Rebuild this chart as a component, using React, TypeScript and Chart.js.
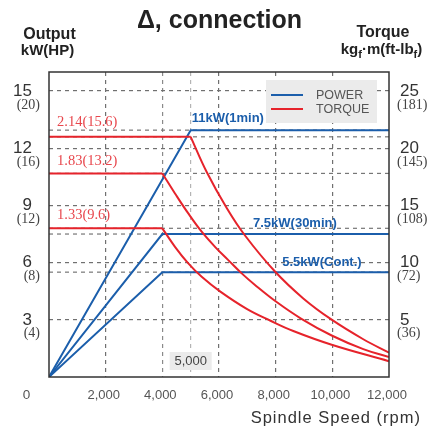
import React, { useEffect, useRef } from "react";
import { Chart, registerables } from "chart.js";

Chart.register(...registerables);

// ---------- data ----------
const rpmGrid = [2000, 4000, 5000, 6000, 8000, 10000];
const rpmTickLabels = [2000, 4000, 6000, 8000, 10000, 12000];
const outputTicks = [3, 6, 9, 12, 15];
const outputHpLabels = ["(4)", "(8)", "(12)", "(16)", "(20)"];
const torqueTicks = [5, 10, 15, 20, 25];
const torqueFtLbLabels = ["(36)", "(72)", "(108)", "(145)", "(181)"];

// Power curves (kW, left axis as drawn)
const power1minRpm = [0, 5000, 12000];
const power1minKw = [0, 12.95, 12.95];
const power30minRpm = [0, 4000, 12000];
const power30minKw = [0, 7.5, 7.5];
const powerContRpm = [0, 4000, 12000];
const powerContKw = [0, 5.5, 5.5];

// Torque curves (right axis units as drawn)
const torque1FlatRpm = [0, 5000];
const torque1FlatVal = [21.0, 21.0];
const torque1CurveRpm = [5000, 5566, 6272, 6918, 7976, 8975, 9977, 11093, 12000];
const torque1CurveVal = [21.0, 17.93, 14.78, 12.37, 9.22, 6.87, 5.01, 3.3, 2.13];

const torque2FlatRpm = [0, 4000];
const torque2FlatVal = [17.8, 17.8];
const torque2CurveRpm = [4000, 4447, 4916, 5389, 5859, 6328, 6801, 7270, 8047, 8894, 9977, 11093, 12000];
const torque2CurveVal = [17.8, 16.05, 14.3, 12.7, 11.38, 10.22, 9.06, 8.05, 6.53, 5.11, 3.63, 2.44, 1.74];

const torque3FlatRpm = [0, 4000];
const torque3FlatVal = [13.0, 13.0];
const torque3CurveRpm = [4000, 4447, 4916, 5389, 6035, 6978, 7800, 8622, 9977, 12000];
const torque3CurveVal = [13.0, 11.38, 9.93, 8.76, 7.49, 5.96, 4.94, 4.02, 2.82, 1.38];

const powerLabels = ["11kW(1min)", "7.5kW(30min)", "5.5kW(Cont.)"];
const torqueLabels = ["2.14(15.6)", "1.83(13.2)", "1.33(9.6)"];

// ---------- styles ----------
const BLUE = "#1b5eab";
const RED = "#e6232b";
const SANS = "'Liberation Sans', Arial, sans-serif";
const SERIF = "'Liberation Serif', 'Times New Roman', serif";

const zip = (xs: number[], ys: number[]) => xs.map((x, i) => ({ x, y: ys[i] }));

function text(
  ctx: CanvasRenderingContext2D,
  s: string,
  x: number,
  y: number,
  font: string,
  color: string,
  align: CanvasTextAlign = "left",
  spacing = "0px"
) {
  ctx.save();
  ctx.font = font;
  ctx.fillStyle = color;
  ctx.textAlign = align;
  ctx.textBaseline = "middle";
  (ctx as any).letterSpacing = spacing;
  ctx.fillText(s, x, y);
  ctx.restore();
}

const overlay = {
  id: "overlay",
  beforeDatasetsDraw(chart: any) {
    const { ctx, chartArea: a, scales } = chart;
    const ys: number[] = [
      scales.y.getPixelForValue(power1minKw[1]),
      scales.y.getPixelForValue(power30minKw[1]),
      scales.y.getPixelForValue(powerContKw[1]),
      scales.y1.getPixelForValue(torque1FlatVal[0]),
      scales.y1.getPixelForValue(torque2FlatVal[0]),
      scales.y1.getPixelForValue(torque3FlatVal[0]),
    ];
    ctx.save();
    ctx.strokeStyle = "#777";
    ctx.lineWidth = 1.2;
    ctx.setLineDash([4, 4]);
    ys.forEach((y) => {
      ctx.beginPath();
      ctx.moveTo(a.left, y);
      ctx.lineTo(a.right, y);
      ctx.stroke();
    });
    ctx.restore();
  },
  afterDatasetsDraw(chart: any) {
    const { ctx, chartArea: a, scales } = chart;
    const x = scales.x, y = scales.y, y1 = scales.y1;

    // frame
    ctx.save();
    ctx.strokeStyle = "#333";
    ctx.lineWidth = 1.5;
    ctx.strokeRect(a.left, a.top, a.right - a.left, a.bottom - a.top);
    ctx.restore();

    // title
    text(ctx, "Δ, connection", 219.5, 21, `bold 25px ${SANS}`, "#222", "center");
    text(ctx, "Output", 49.5, 34.5, `bold 16px ${SANS}`, "#222", "center");
    text(ctx, "kW(HP)", 47.5, 51, `bold 15px ${SANS}`, "#222", "center");
    text(ctx, "Torque", 383, 32.5, `bold 16px ${SANS}`, "#222", "center");

    // kgf.m(ft-lbf) with subscripts
    {
      const main = `bold 15px ${SANS}`;
      const sub = `bold 11px ${SANS}`;
      const parts: [string, boolean][] = [
        ["kg", false], ["f", true], ["·m(ft-lb", false], ["f", true], [")", false],
      ];
      ctx.save();
      let total = 0;
      parts.forEach(([s, isSub]) => {
        ctx.font = isSub ? sub : main;
        total += ctx.measureText(s).width;
      });
      ctx.restore();
      let cx = 381.5 - total / 2;
      parts.forEach(([s, isSub]) => {
        ctx.save();
        ctx.font = isSub ? sub : main;
        const w = ctx.measureText(s).width;
        ctx.restore();
        text(ctx, s, cx, isSub ? 54.5 : 50, isSub ? sub : main, "#222", "left");
        cx += w;
      });
    }

    // left ticks
    outputTicks.forEach((v, i) => {
      const py = y.getPixelForValue(v);
      text(ctx, String(v), 32, py, `17px ${SANS}`, "#333", "right");
      text(ctx, outputHpLabels[i], 40, py + 14, `14px ${SERIF}`, "#444", "right");
    });
    // right ticks
    torqueTicks.forEach((v, i) => {
      const py = y1.getPixelForValue(v);
      text(ctx, String(v), 400, py, `17px ${SANS}`, "#333", "left");
      text(ctx, torqueFtLbLabels[i], 397, py + 14, `14px ${SERIF}`, "#444", "left");
    });
    // bottom ticks
    rpmTickLabels.forEach((v) => {
      text(ctx, v.toLocaleString("en-US"), x.getPixelForValue(v) - 2, 395, `13px ${SANS}`, "#555", "center");
    });
    text(ctx, "0", 26.5, 395, `13.5px ${SANS}`, "#555", "center");
    text(ctx, "Spindle Speed (rpm)", 421, 418, `16.5px ${SANS}`, "#333", "right", "1px");

    // 5,000 tag
    {
      const px = x.getPixelForValue(5000);
      ctx.save();
      ctx.fillStyle = "#ebebeb";
      ctx.fillRect(px - 21, 352, 42, 18);
      ctx.restore();
      text(ctx, "5,000", px, 361.5, `13px ${SANS}`, "#444", "center");
    }

    // power labels
    const pf = `bold 13px ${SANS}`;
    text(ctx, powerLabels[0], x.getPixelForValue(5000) + 1, y.getPixelForValue(power1minKw[1]) - 11.5, pf, BLUE, "left");
    text(ctx, powerLabels[1], x.getPixelForValue(7200), y.getPixelForValue(power30minKw[1]) - 10.5, pf, BLUE, "left");
    text(ctx, powerLabels[2], x.getPixelForValue(8230), y.getPixelForValue(powerContKw[1]) - 9.5, pf, BLUE, "left");

    // torque labels
    const tf = `14.5px ${SERIF}`;
    const tc = "#e8474d";
    text(ctx, torqueLabels[0], 57, y1.getPixelForValue(torque1FlatVal[0]) - 15, tf, tc, "left");
    text(ctx, torqueLabels[1], 57, y1.getPixelForValue(torque2FlatVal[0]) - 12.5, tf, tc, "left");
    text(ctx, torqueLabels[2], 57, y1.getPixelForValue(torque3FlatVal[0]) - 13, tf, tc, "left");

    // legend
    ctx.save();
    ctx.fillStyle = "#ebebeb";
    ctx.fillRect(266, 80, 111, 43);
    ctx.lineWidth = 2;
    ctx.strokeStyle = BLUE;
    ctx.beginPath();
    ctx.moveTo(271, 95);
    ctx.lineTo(303, 95);
    ctx.stroke();
    ctx.strokeStyle = RED;
    ctx.beginPath();
    ctx.moveTo(271, 109);
    ctx.lineTo(303, 109);
    ctx.stroke();
    ctx.restore();
    text(ctx, "POWER", 316, 95.5, `12.5px ${SANS}`, "#555", "left");
    text(ctx, "TORQUE", 316, 109.5, `12.5px ${SANS}`, "#555", "left");
  },
};

export default function App() {
  const ref = useRef<HTMLCanvasElement | null>(null);

  useEffect(() => {
    if (!ref.current) return;
    const blue = (xs: number[], ys: number[]) => ({
      data: zip(xs, ys),
      borderColor: BLUE,
      borderWidth: 2,
      tension: 0,
      yAxisID: "y",
      pointRadius: 0,
    });
    const redFlat = (xs: number[], ys: number[]) => ({
      data: zip(xs, ys),
      borderColor: RED,
      borderWidth: 2,
      tension: 0,
      yAxisID: "y1",
      pointRadius: 0,
    });
    const redCurve = (xs: number[], ys: number[]) => ({
      data: zip(xs, ys),
      borderColor: RED,
      borderWidth: 2,
      tension: 0.4,
      yAxisID: "y1",
      pointRadius: 0,
    });

    const chart = new Chart(ref.current, {
      type: "line",
      data: {
        datasets: [
          redFlat(torque1FlatRpm, torque1FlatVal),
          redCurve(torque1CurveRpm, torque1CurveVal),
          redFlat(torque2FlatRpm, torque2FlatVal),
          redCurve(torque2CurveRpm, torque2CurveVal),
          redFlat(torque3FlatRpm, torque3FlatVal),
          redCurve(torque3CurveRpm, torque3CurveVal),
          blue(power1minRpm, power1minKw),
          blue(power30minRpm, power30minKw),
          blue(powerContRpm, powerContKw),
        ] as any,
      },
      options: {
        animation: false,
        responsive: false,
        devicePixelRatio: 1,
        layout: { padding: { top: 72, left: 0, right: 0, bottom: 0 } },
        plugins: {
          legend: { display: false },
          title: { display: false },
          tooltip: { enabled: false },
        },
        scales: {
          x: {
            type: "linear",
            min: 0,
            max: 12000,
            afterBuildTicks: (s: any) => {
              s.ticks = rpmGrid.map((v) => ({ value: v }));
            },
            afterFit: (s: any) => {
              s.height = 57;
            },
            ticks: { display: false },
            grid: {
              color: (c: any) => (c.tick && c.tick.value === 5000 ? "#b4b4b4" : c.tick && c.tick.value === 4000 ? "#8a8a8a" : "#707070"),
              lineWidth: 1.2,
              drawTicks: false,
            },
            border: { display: false, dash: [4, 4] },
          },
          y: {
            position: "left",
            min: 0,
            max: 16,
            afterBuildTicks: (s: any) => {
              s.ticks = outputTicks.map((v) => ({ value: v }));
            },
            afterFit: (s: any) => {
              s.width = 49;
            },
            ticks: { display: false },
            grid: { color: "#707070", lineWidth: 1.2, drawTicks: false },
            border: { display: false, dash: [4, 4] },
          },
          y1: {
            position: "right",
            min: 0,
            max: 80 / 3,
            afterFit: (s: any) => {
              s.width = 47;
            },
            ticks: { display: false },
            grid: { display: false, drawTicks: false },
            border: { display: false },
          },
        },
      } as any,
      plugins: [overlay],
    });
    return () => chart.destroy();
  }, []);

  return (
    <div style={{ position: "absolute", left: 0, top: 0, width: 436, height: 434, background: "#fff" }}>
      <canvas ref={ref} width={436} height={434} style={{ display: "block" }} />
    </div>
  );
}
